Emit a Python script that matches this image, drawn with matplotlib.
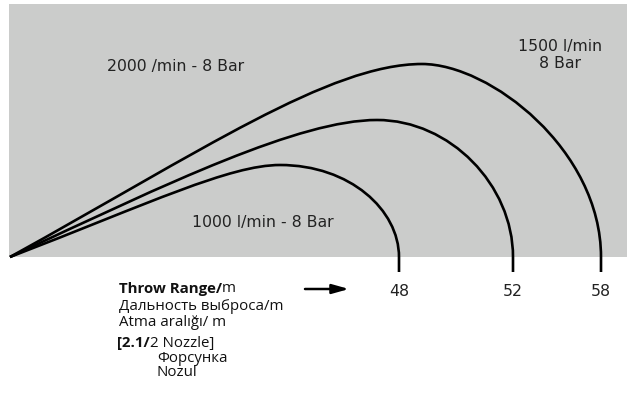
import matplotlib.pyplot as plt
from matplotlib.path import Path
from matplotlib.patches import PathPatch, Rectangle

# throw range (m) and where each jet lands on the drawing
ranges = ["48", "52", "58"]
land_x = [399, 513, 601]

# jet shape: apex and bezier handles for rise / fall (drawing units, y down)
origin = (10, 257)
apex = [(280, 165), (377, 120), (422, 64)]
rise_handles = [((150, 203), (230, 165)),
                ((170, 182), (300, 120)),
                ((200, 152), (330, 64))]
fall_handles = [((350, 165), (399, 210)),
                ((450, 120), (513, 185)),
                ((490, 64), (601, 150))]
ground_y = 257
tick_y = 272

flow_labels = ["1000 l/min - 8 Bar", "2000 /min - 8 Bar", "1500 l/min\n8 Bar"]

W, H = 627, 398
fig = plt.figure(figsize=(W / 100, H / 100), dpi=100)
ax = fig.add_axes([0, 0, 1, 1])
ax.set_xlim(0, W)
ax.set_ylim(H, 0)
ax.axis("off")

# grey backdrop
ax.add_patch(Rectangle((9, 4), W - 9, ground_y - 4, facecolor="#cbcccb",
                       edgecolor="none", zorder=0))

# jets
for (a, rh, fh, lx) in zip(apex, rise_handles, fall_handles, land_x):
    verts = [origin, rh[0], rh[1], a, fh[0], fh[1], (lx, ground_y), (lx, tick_y)]
    codes = [Path.MOVETO] + [Path.CURVE4] * 6 + [Path.LINETO]
    ax.add_patch(PathPatch(Path(verts, codes), facecolor="none",
                           edgecolor="black", lw=1.9, capstyle="butt",
                           joinstyle="round", zorder=2))

# flow labels
lab_font = "DejaVu Sans"
lab_col = "#222222"
ax.text(192, 222, flow_labels[0], fontsize=11.3, family=lab_font,
        color=lab_col, ha="left", va="center")
ax.text(107, 66, flow_labels[1], fontsize=11.3, family=lab_font,
        color=lab_col, ha="left", va="center")
ax.text(560, 55, flow_labels[2], fontsize=11.3, family=lab_font,
        color=lab_col, ha="center", va="center", linespacing=1.15)

# range values
for r, lx in zip(ranges, land_x):
    ax.text(lx, 291, r, fontsize=11.3, family=lab_font, color=lab_col,
            ha="center", va="center")

# legend block
txt_font = ["Open Sans", "DejaVu Sans"]
fs = 10.8
renderer = fig.canvas.get_renderer()


def mixed(x, y, parts):
    # parts: list of (text, bold) drawn one after another on a line
    for s, bold in parts:
        t = ax.text(x, y, s, fontsize=fs, family=txt_font,
                    fontweight="bold" if bold else "normal",
                    ha="left", va="center", color="#111111")
        bb = t.get_window_extent(renderer=renderer)
        x = x + bb.width * W / fig.bbox.width


mixed(119, 289, [("Throw Range/", True), ("m", False)])
mixed(119, 306, [("Дальность выброса/m", False)])
mixed(119, 323, [("Atma aralığı/ m", False)])
mixed(117, 343, [("[2.1/", True), ("2 Nozzle]", False)])
mixed(157, 358, [("Форсунка", False)])
mixed(157, 373, [("Nozul", False)])

ax.annotate("", xy=(349, 289), xytext=(305, 289),
            arrowprops=dict(arrowstyle="-|>,head_length=1.0,head_width=0.28",
                            color="black", lw=1.8, shrinkA=0, shrinkB=0))

fig.savefig("out.png", dpi=100)
